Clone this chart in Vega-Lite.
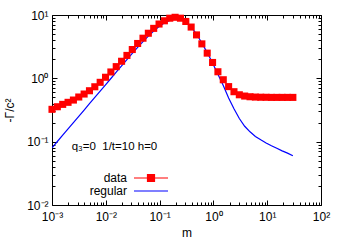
{
  "$schema": "https://vega.github.io/schema/vega-lite/v6.json",
  "width": 269,
  "height": 190,
  "autosize": {"type": "none"},
  "padding": {"left": 52, "top": 15, "right": 29, "bottom": 40},
  "background": "white",
  "config": {
    "view": {"stroke": null},
    "font": "Liberation Sans",
    "axis": {
      "domainColor": "black", "tickColor": "black", "labelColor": "black", "titleColor": "black",
      "grid": false, "labelFont": "Liberation Sans", "labelFontSize": 12,
      "titleFont": "Liberation Sans", "titleFontSize": 12, "titleFontWeight": "normal",
      "domainWidth": 1, "tickWidth": 1
    }
  },
  "datasets": {
    "curves": [
      {"m": 0.001, "data": 0.324, "regular": 0.08},
      {"m": 0.001257, "data": 0.356, "regular": 0.1006},
      {"m": 0.001581, "data": 0.388, "regular": 0.1265},
      {"m": 0.001988, "data": 0.418, "regular": 0.159},
      {"m": 0.0025, "data": 0.454, "regular": 0.2},
      {"m": 0.003144, "data": 0.507, "regular": 0.2515},
      {"m": 0.003953, "data": 0.565, "regular": 0.316},
      {"m": 0.00497, "data": 0.637, "regular": 0.398},
      {"m": 0.00625, "data": 0.736, "regular": 0.5},
      {"m": 0.007859, "data": 0.865, "regular": 0.629},
      {"m": 0.009882, "data": 1.04, "regular": 0.79},
      {"m": 0.012426, "data": 1.26, "regular": 0.994},
      {"m": 0.015625, "data": 1.53, "regular": 1.25},
      {"m": 0.019648, "data": 1.86, "regular": 1.57},
      {"m": 0.024706, "data": 2.3, "regular": 1.97},
      {"m": 0.031066, "data": 2.85, "regular": 2.47},
      {"m": 0.039063, "data": 3.55, "regular": 3.08},
      {"m": 0.049119, "data": 4.3, "regular": 3.8},
      {"m": 0.061763, "data": 5.15, "regular": 4.65},
      {"m": 0.077664, "data": 6.15, "regular": 5.6},
      {"m": 0.097657, "data": 7.2, "regular": 6.6},
      {"m": 0.1228, "data": 8.1, "regular": 7.5},
      {"m": 0.15441, "data": 8.9, "regular": 8.2},
      {"m": 0.19416, "data": 9.2, "regular": 8.6},
      {"m": 0.24414, "data": 8.9, "regular": 8.55},
      {"m": 0.30699, "data": 7.9, "regular": 7.8},
      {"m": 0.38602, "data": 6.45, "regular": 6.5},
      {"m": 0.48539, "data": 4.85, "regular": 5.0},
      {"m": 0.61034, "data": 3.5, "regular": 3.62},
      {"m": 0.76746, "data": 2.5, "regular": 2.55},
      {"m": 0.965, "data": 1.78, "regular": 1.74},
      {"m": 1.2134, "data": 1.27, "regular": 1.16},
      {"m": 1.5258, "data": 0.95, "regular": 0.77},
      {"m": 1.9186, "data": 0.74, "regular": 0.49},
      {"m": 2.4125, "data": 0.615, "regular": 0.33},
      {"m": 3.0335, "data": 0.55, "regular": 0.232},
      {"m": 3.8144, "data": 0.525, "regular": 0.175},
      {"m": 4.7964, "data": 0.512, "regular": 0.143},
      {"m": 6.0311, "data": 0.506, "regular": 0.121},
      {"m": 7.5836, "data": 0.503, "regular": 0.107},
      {"m": 9.537, "data": 0.502, "regular": 0.0955},
      {"m": 11.99, "data": 0.5, "regular": 0.086},
      {"m": 15.08, "data": 0.5, "regular": 0.0785},
      {"m": 18.96, "data": 0.5, "regular": 0.0716},
      {"m": 23.85, "data": 0.5, "regular": 0.066},
      {"m": 30.0, "data": 0.5, "regular": 0.06}
    ],
    "ann": [{"m": 0.00232, "v": 0.082, "t": "q₃=0 \u00a01/t=10 h=0"}]
  },
  "layer": [
    {
      "data": {"name": "curves"},
      "mark": {"type": "line", "strokeWidth": 1.2, "clip": true},
      "encoding": {
        "x": {"field": "m", "type": "quantitative",
          "scale": {"type": "log", "domain": [0.001, 100], "nice": false},
          "axis": {"orient": "bottom", "values": [0.001, 0.01, 0.1, 1, 10, 100],
            "labelExpr": "datum.value < 0.005 ? '10⁻³' : datum.value < 0.05 ? '10⁻²' : datum.value < 0.5 ? '10⁻¹' : datum.value < 5 ? '10⁰' : datum.value < 50 ? '10¹' : '10²'",
            "tickSize": -5, "labelPadding": 11, "labelFlush": false, "labelOverlap": false, "title": "m", "titlePadding": 5}},
        "y": {"field": "regular", "type": "quantitative",
          "scale": {"type": "log", "domain": [0.01, 10], "nice": false},
          "axis": {"orient": "left", "values": [0.01, 0.1, 1, 10],
            "labelExpr": "datum.value < 0.05 ? '10⁻²' : datum.value < 0.5 ? '10⁻¹' : datum.value < 5 ? '10⁰' : '10¹'",
            "tickSize": -5, "labelPadding": 9, "labelFlush": false, "labelOverlap": false, "title": "-Γ/c²", "titlePadding": 10}},
        "color": {"datum": "regular", "scale": {"domain": ["data", "regular"], "range": ["#ff0000", "#0000ff"]},
          "legend": {"orient": "none", "legendX": 93, "legendY": 157, "title": null,
            "labelFont": "Liberation Sans", "labelFontSize": 12, "labelColor": "black",
            "labelAlign": "right", "labelOffset": -30, "symbolSize": 100, "symbolStrokeWidth": 1.2, "rowPadding": 1, "padding": 0,
            "symbolType": {"expr": "datum.value === 'data' ? 'M-3.4,0H3.4M-0.7,-0.7H0.7V0.7H-0.7Z' : 'M-3.4,0H3.4'"}}}
      }
    },
    {
      "data": {"name": "curves"},
      "mark": {"type": "point", "shape": "square", "filled": true, "size": 50, "opacity": 1},
      "encoding": {
        "x": {"field": "m", "type": "quantitative",
          "axis": {"orient": "top", "values": [0.001, 0.01, 0.1, 1, 10, 100], "labels": false, "tickSize": -5, "title": null}},
        "y": {"field": "data", "type": "quantitative",
          "axis": {"orient": "right", "values": [0.01, 0.1, 1, 10], "labels": false, "tickSize": -5, "title": null}},
        "color": {"datum": "data", "scale": {"domain": ["data", "regular"], "range": ["#ff0000", "#0000ff"]},
          "legend": {"orient": "none", "legendX": 93, "legendY": 157, "title": null,
            "labelFont": "Liberation Sans", "labelFontSize": 12, "labelColor": "black",
            "labelAlign": "right", "labelOffset": -30, "symbolSize": 100, "symbolStrokeWidth": 1.2, "rowPadding": 1, "padding": 0,
            "symbolType": {"expr": "datum.value === 'data' ? 'M-3.4,0H3.4M-0.7,-0.7H0.7V0.7H-0.7Z' : 'M-3.4,0H3.4'"}}}
      }
    },
    {
      "data": {"name": "curves"},
      "mark": {"type": "point", "opacity": 0},
      "encoding": {
        "x": {"field": "m", "type": "quantitative",
          "axis": {"orient": "bottom", "values": [0.002,0.003,0.004,0.005,0.006,0.007,0.008,0.009,0.02,0.03,0.04,0.05,0.06,0.07,0.08,0.09,0.2,0.3,0.4,0.5,0.6,0.7,0.8,0.9,2,3,4,5,6,7,8,9,20,30,40,50,60,70,80,90], "labels": false, "domain": false, "tickSize": -3, "title": null}},
        "y": {"field": "data", "type": "quantitative",
          "axis": {"orient": "left", "values": [0.02,0.03,0.04,0.05,0.06,0.07,0.08,0.09,0.2,0.3,0.4,0.5,0.6,0.7,0.8,0.9,2,3,4,5,6,7,8,9], "labels": false, "domain": false, "tickSize": -3, "title": null}}
      }
    },
    {
      "data": {"name": "curves"},
      "mark": {"type": "point", "opacity": 0},
      "encoding": {
        "x": {"field": "m", "type": "quantitative",
          "axis": {"orient": "top", "values": [0.002,0.003,0.004,0.005,0.006,0.007,0.008,0.009,0.02,0.03,0.04,0.05,0.06,0.07,0.08,0.09,0.2,0.3,0.4,0.5,0.6,0.7,0.8,0.9,2,3,4,5,6,7,8,9,20,30,40,50,60,70,80,90], "labels": false, "domain": false, "tickSize": -3, "title": null}},
        "y": {"field": "data", "type": "quantitative",
          "axis": {"orient": "right", "values": [0.02,0.03,0.04,0.05,0.06,0.07,0.08,0.09,0.2,0.3,0.4,0.5,0.6,0.7,0.8,0.9,2,3,4,5,6,7,8,9], "labels": false, "domain": false, "tickSize": -3, "title": null}}
      }
    },
    {
      "data": {"name": "ann"},
      "mark": {"type": "text", "align": "left", "baseline": "middle", "font": "Liberation Sans", "fontSize": 11.5, "color": "black"},
      "encoding": {
        "x": {"field": "m", "type": "quantitative", "axis": null},
        "y": {"field": "v", "type": "quantitative", "axis": null},
        "text": {"field": "t"}
      }
    }
  ]
}
